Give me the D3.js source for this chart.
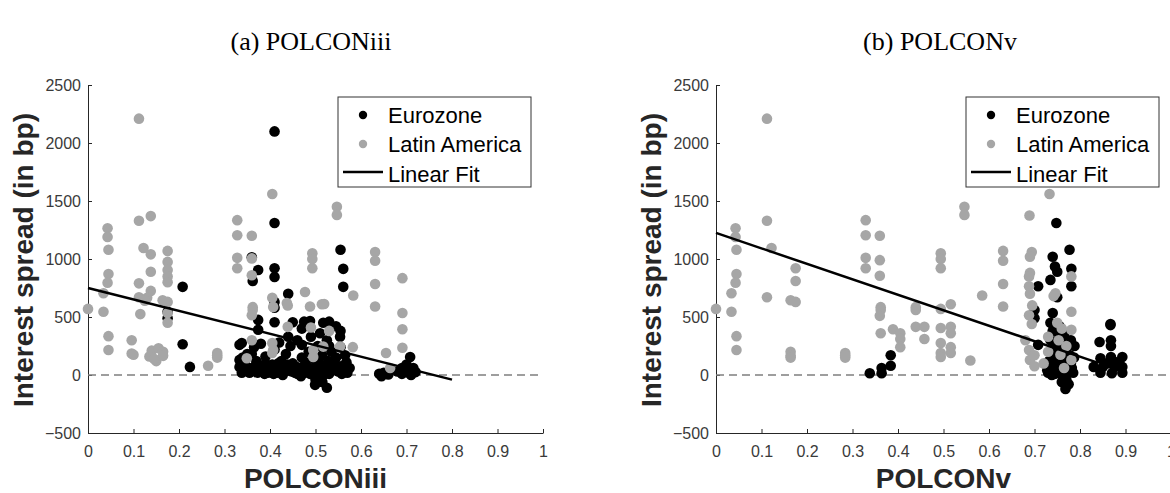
<!DOCTYPE html>
<html>
<head>
<meta charset="utf-8">
<script src="https://cdn.jsdelivr.net/npm/d3@7"></script>
<style>
  body { margin: 0; background: #fff; }
  .tick text { font-family: "Liberation Sans", Arial, sans-serif; font-size: 16px; fill: #3a3a3a; }
  .domain, .tick line { stroke: #262626; }
</style>
</head>
<body>
<svg id="chart" width="1170" height="493"></svg>
<script>
// --- data: [polcon, spread in bp] ---
var euroIII = [
  [0.41,2100],[0.41,1310],[0.41,920],[0.41,845],[0.41,630],[0.41,580],[0.41,455],
  [0.374,905],[0.36,1015],[0.362,810],[0.44,700],
  [0.208,760],[0.208,265],[0.224,70],[0.175,545],[0.175,490],
  [0.374,475],[0.374,390],[0.45,455],[0.475,460],[0.488,465],[0.517,450],[0.532,415],[0.554,330],[0.555,380],
  [0.555,1080],[0.561,915],[0.561,760],
  [0.333,260],[0.333,130],[0.333,70],[0.338,20],[0.345,90],[0.35,180],[0.36,60],[0.365,240],[0.37,120],[0.372,20],
  [0.38,270],[0.385,70],[0.39,160],[0.395,20],[0.4,30],[0.405,90],[0.41,220],[0.415,20],[0.42,60],[0.425,120],
  [0.43,30],[0.435,180],[0.44,40],[0.445,250],[0.45,100],[0.455,20],[0.46,300],[0.465,60],[0.47,150],[0.475,20],
  [0.48,80],[0.485,200],[0.49,330],[0.495,40],[0.499,-85],[0.5,120],[0.505,250],[0.51,20],[0.515,170],[0.52,60],
  [0.525,-110],[0.525,300],[0.53,10],[0.535,200],[0.54,90],[0.545,150],[0.55,30],[0.555,240],[0.56,80],[0.565,170],
  [0.57,20],[0.575,60],[0.51,360],[0.47,400],[0.53,460],[0.545,420],[0.338,276],[0.35,40],[0.39,100],[0.46,10],
  [0.34,150],[0.355,20],[0.368,80],[0.378,40],[0.388,10],[0.398,70],[0.408,10],[0.418,100],[0.428,0],[0.438,90],
  [0.448,30],[0.458,70],[0.468,-10],[0.478,110],[0.488,10],[0.498,60],[0.508,100],[0.518,0],[0.528,120],[0.538,40],
  [0.548,80],[0.558,10],[0.568,110],[0.5,-40],[0.515,-60],[0.36,180],[0.42,280],[0.44,330],[0.53,250],[0.47,260],
  [0.64,10],[0.645,-10],[0.65,20],[0.66,5],[0.68,30],[0.69,10],[0.7,40],[0.705,20],[0.71,0],[0.715,60],[0.72,25],
  [0.708,155],[0.7,90],[0.69,60]
];
var latamIII = [
  [0,570],[0.034,705],[0.034,545],
  [0.043,1265],[0.043,1190],[0.045,1080],[0.045,870],[0.043,795],[0.045,335],[0.045,215],
  [0.096,300],[0.096,185],[0.1,175],
  [0.112,2210],[0.112,1330],[0.112,790],[0.112,670],[0.115,525],
  [0.122,1095],[0.138,1370],[0.138,1040],[0.138,890],[0.138,725],[0.13,665],[0.125,640],
  [0.14,210],[0.135,160],[0.15,120],[0.155,230],[0.165,200],[0.165,165],[0.145,140],
  [0.175,1070],[0.175,975],[0.175,905],[0.175,850],[0.175,800],[0.175,630],[0.175,535],[0.175,450],[0.164,645],
  [0.264,80],[0.284,190],[0.284,150],[0.284,170],
  [0.328,1335],[0.328,1205],[0.328,1010],[0.328,920],
  [0.36,1200],[0.36,1005],[0.36,860],[0.362,585],[0.362,560],[0.36,515],[0.349,145],[0.36,300],
  [0.405,1560],[0.405,665],[0.405,275],[0.405,190],[0.407,587],[0.407,216],
  [0.437,620],[0.439,600],[0.439,415],[0.477,715],[0.488,590],[0.493,1050],[0.493,1000],[0.493,920],[0.514,610],
  [0.495,215],[0.495,155],[0.49,410],[0.517,245],[0.554,245],[0.53,380],
  [0.547,1450],[0.547,1380],[0.583,685],[0.582,240],
  [0.631,1060],[0.631,985],[0.631,785],[0.631,590],
  [0.691,835],[0.691,535],[0.691,395],[0.691,235],
  [0.655,190],[0.664,60],[0.519,612]
];
var euroV = [
  [0.338,15],[0.364,60],[0.364,15],[0.384,170],[0.384,80],
  [0.748,1310],[0.777,1080],[0.74,1020],[0.745,935],[0.75,890],[0.735,820],[0.781,915],[0.781,765],[0.708,765],
  [0.70,560],[0.70,490],[0.75,670],[0.74,535],[0.708,260],[0.768,-85],[0.768,-120],[0.77,-40],
  [0.73,20],[0.735,80],[0.74,150],[0.745,10],[0.75,250],[0.755,60],[0.76,120],[0.765,350],[0.765,10],[0.77,200],
  [0.775,40],[0.78,300],[0.78,100],[0.785,20],[0.74,380],[0.755,420],[0.76,30],[0.75,180],[0.77,150],[0.735,300],
  [0.745,60],[0.772,80],[0.788,250],[0.728,40],
  [0.732,120],[0.738,0],[0.748,110],[0.752,30],[0.758,200],[0.762,-10],[0.768,90],[0.772,300],[0.778,170],
  [0.782,60],[0.742,230],[0.755,330],[0.767,250],[0.76,-60],[0.775,-80],[0.735,450],[0.787,150],
  [0.867,440],[0.867,430],[0.843,285],[0.868,300],[0.868,250],[0.845,145],[0.868,155],[0.893,155],[0.83,70],
  [0.845,20],[0.87,15],[0.893,20],[0.85,70],[0.876,70],[0.893,70],[0.86,100],[0.88,110]
];
var latamV = [
  [0.112,2210],[0,570],[0.034,705],[0.034,545],[0.043,1265],[0.043,1190],[0.045,1080],[0.045,870],[0.043,795],
  [0.045,335],[0.045,215],
  [0.112,1330],[0.122,1095],[0.112,670],
  [0.164,645],[0.175,630],[0.175,920],[0.175,810],[0.164,200],[0.164,165],[0.164,150],
  [0.284,190],[0.284,150],[0.284,170],
  [0.329,1335],[0.329,1205],[0.329,1010],[0.329,920],
  [0.36,1200],[0.36,990],[0.36,855],[0.362,585],[0.362,560],[0.36,510],[0.362,360],
  [0.389,395],[0.405,360],[0.405,310],[0.405,240],
  [0.439,585],[0.439,560],[0.439,415],[0.458,415],[0.458,310],
  [0.494,1050],[0.494,1000],[0.494,920],[0.494,570],[0.494,405],[0.494,275],[0.494,190],[0.494,155],
  [0.516,610],[0.516,415],[0.516,360],[0.516,240],[0.516,190],
  [0.546,1450],[0.546,1380],[0.559,125],[0.585,685],
  [0.631,1070],[0.631,985],[0.631,785],[0.631,590],
  [0.689,1375],[0.694,1060],[0.69,1020],[0.69,880],[0.688,850],[0.688,765],[0.69,700],[0.688,515],[0.694,440],
  [0.688,215],[0.69,130],[0.70,75],[0.70,170],[0.68,300],[0.695,600],
  [0.733,1560],[0.781,850],[0.781,545],[0.781,390],[0.781,130],
  [0.746,705],[0.742,680],[0.75,450],[0.753,300],[0.757,175],[0.765,60],[0.73,330],[0.73,200],[0.76,400],
  [0.77,250],[0.72,100]
];
var fitIII = [[0, 750], [0.8, -40]];
var fitV = [[0, 1225], [0.84, 105]];
var xTicks = [0, 0.1, 0.2, 0.3, 0.4, 0.5, 0.6, 0.7, 0.8, 0.9, 1];
var yTicks = [-500, 0, 500, 1000, 1500, 2000, 2500];
var legendLabels = ["Eurozone", "Latin America", "Linear Fit"];

var svg = d3.select("#chart");
var gray = "#a6a6a6";

function drawPanel(opt) {
  var x = d3.scaleLinear().domain([0, 1]).range([opt.left, opt.left + 455]);
  var y = d3.scaleLinear().domain([-500, 2500]).range([433, 85]);
  var g = svg.append("g");

  g.append("text")
    .attr("x", opt.titleX).attr("y", 50)
    .attr("text-anchor", "middle")
    .style("font-family", "'Liberation Serif', serif")
    .style("font-size", "26px")
    .text(opt.title);

  g.append("g").attr("transform", "translate(0,433)")
    .call(d3.axisBottom(x).tickValues(xTicks).tickSize(-4).tickSizeOuter(0).tickPadding(13)
      .tickFormat(d3.format("")));
  g.append("g").attr("transform", "translate(" + opt.left + ",0)")
    .call(d3.axisLeft(y).tickValues(yTicks).tickSize(-4).tickSizeOuter(0).tickPadding(7)
      .tickFormat(d3.format("d")));

  // zero line
  g.append("line")
    .attr("x1", x(0)).attr("x2", x(1)).attr("y1", y(0)).attr("y2", y(0))
    .attr("stroke", "#7f7f7f").attr("stroke-width", 1.3).attr("stroke-dasharray", "8,5");

  g.append("g").selectAll("circle").data(opt.euro).enter().append("circle")
    .attr("cx", function(d) { return x(d[0]); })
    .attr("cy", function(d) { return y(d[1]); })
    .attr("r", 5.3).attr("fill", "#000");
  g.append("g").selectAll("circle").data(opt.latam).enter().append("circle")
    .attr("cx", function(d) { return x(d[0]); })
    .attr("cy", function(d) { return y(d[1]); })
    .attr("r", 5.3).attr("fill", gray);

  g.append("path").datum(opt.fit)
    .attr("d", d3.line().x(function(d) { return x(d[0]); }).y(function(d) { return y(d[1]); }))
    .attr("stroke", "#000").attr("stroke-width", 2.5).attr("fill", "none");

  // axis labels
  g.append("text")
    .attr("transform", "translate(" + opt.yLabelX + ",260) rotate(-90)")
    .attr("text-anchor", "middle")
    .style("font-family", "'Liberation Sans', Arial, sans-serif")
    .style("font-weight", "bold").style("font-size", "28px").style("fill", "#262626")
    .text("Interest spread (in bp)");
  g.append("text")
    .attr("x", opt.left + 227.5).attr("y", 488)
    .attr("text-anchor", "middle")
    .style("font-family", "'Liberation Sans', Arial, sans-serif")
    .style("font-weight", "bold").style("font-size", "28px").style("fill", "#262626")
    .text(opt.xLabel);

  // legend
  var lg = g.append("g").attr("transform", "translate(" + opt.legendX + ",97)");
  lg.append("rect").attr("width", 193).attr("height", 90)
    .attr("fill", "#fff").attr("stroke", "#333").attr("stroke-width", 1);
  var rows = [26, 55, 85];
  lg.append("circle").attr("cx", 25).attr("cy", rows[0] - 8).attr("r", 4.2).attr("fill", "#000");
  lg.append("circle").attr("cx", 25).attr("cy", rows[1] - 8).attr("r", 4.2).attr("fill", gray);
  lg.append("line").attr("x1", 5).attr("x2", 45).attr("y1", rows[2] - 10).attr("y2", rows[2] - 10)
    .attr("stroke", "#000").attr("stroke-width", 2.5);
  lg.selectAll("text.lab").data(legendLabels).enter().append("text")
    .attr("x", 50).attr("y", function(d, i) { return rows[i]; })
    .style("font-family", "'Liberation Sans', Arial, sans-serif")
    .style("font-size", "22px").style("fill", "#000")
    .text(function(d) { return d; });
}

drawPanel({ left: 88, title: "(a) POLCONiii", titleX: 311, yLabelX: 33, xLabel: "POLCONiii",
  legendX: 338, euro: euroIII, latam: latamIII, fit: fitIII });
drawPanel({ left: 716, title: "(b) POLCONv", titleX: 940, yLabelX: 661, xLabel: "POLCONv",
  legendX: 966, euro: euroV, latam: latamV, fit: fitV });
</script>
</body>
</html>
